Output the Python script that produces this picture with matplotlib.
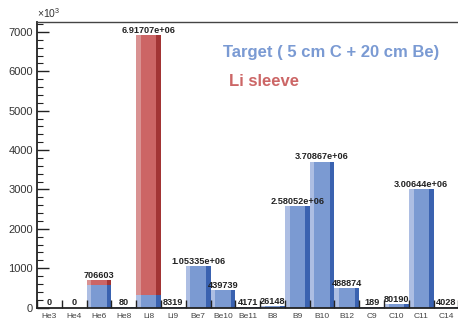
import matplotlib
matplotlib.use("Agg")
import matplotlib.pyplot as plt
import numpy as np

plt.rcParams['font.family'] = ['Liberation Sans', 'DejaVu Sans']
plt.rcParams['mathtext.fontset'] = 'custom'
plt.rcParams['mathtext.rm'] = 'Liberation Sans'

# Isotope yields per bin
isotopes = ["He3", "He4", "He6", "He8", "Li8", "Li9", "Be7", "Be10", "Be11",
            "B8", "B9", "B10", "B12", "C9", "C10", "C11", "C14"]
target_counts = [0, 0, 575000, 80, 320000, 8319, 1053350, 439739, 4171,
                 26148, 2580520, 3708670, 488874, 189, 80190, 3006440, 4028]
sleeve_counts = [0, 0, 131603, 0, 6597070, 0, 0, 0, 0,
                 0, 0, 0, 0, 0, 0, 0, 0]

target = np.array(target_counts, dtype=float)
sleeve = np.array(sleeve_counts, dtype=float)
total = target + sleeve

W, H = 458, 321
fig = plt.figure(figsize=(W / 100, H / 100), dpi=100)
ax = fig.add_axes([37 / W, (H - 307.5) / H, 421.4 / W, 285.9 / H])

blue = dict(light="#adbee3", main="#7b9ad2", dark="#3a62b0")
red = dict(light="#d99292", main="#cc6565", dark="#a23434")
edge_l, edge_r = 0.19, 0.19

def shaded_bar(x, bottom, height, pal):
    if height <= 0:
        return
    ax.bar(x, height, width=edge_l, bottom=bottom, align='edge',
           color=pal["light"], linewidth=0)
    ax.bar(x + edge_l, height, width=1 - edge_l - edge_r, bottom=bottom,
           align='edge', color=pal["main"], linewidth=0)
    ax.bar(x + 1 - edge_r, height, width=edge_r, bottom=bottom, align='edge',
           color=pal["dark"], linewidth=0)

scale = 1e3
for i in range(len(isotopes)):
    shaded_bar(i, 0, target[i] / scale, blue)
    shaded_bar(i, target[i] / scale, sleeve[i] / scale, red)
    ax.annotate(f"{total[i]:g}", (i + 0.5, total[i] / scale),
                xytext=(0, 1.5), textcoords='offset points',
                ha='center', va='baseline', fontsize=6.6,
                fontweight='bold', color='#222222')

n = len(isotopes)
ax.set_xlim(0, n)
ax.set_ylim(0, 1.05 * total.max() / scale)

# x axis: ticks at bin edges, names at bin centres
ax.set_xticks(np.arange(n + 1))
ax.set_xticklabels([])
ax.set_xticks(np.arange(n) + 0.5, minor=True)
ax.set_xticklabels(isotopes, minor=True)
ax.tick_params(axis='x', which='major', direction='in', length=6,
               width=1, color='#222222')
ax.tick_params(axis='x', which='minor', length=0, pad=4,
               labelsize=6, labelcolor='#444444')

# y axis
ax.set_yticks(np.arange(0, 7001, 1000))
ax.set_yticks(np.arange(0, 7300, 200), minor=True)
ax.tick_params(axis='y', which='major', direction='in', length=8.6,
               width=1, color='#222222', labelsize=8, labelcolor='#333333',
               pad=3)
ax.tick_params(axis='y', which='minor', direction='in', length=4.3,
               width=0.8, color='#222222')

ax.spines['left'].set_linewidth(1.3)
ax.spines['left'].set_color('#222222')
ax.spines['bottom'].set_linewidth(1.3)
ax.spines['bottom'].set_color('#222222')
ax.spines['top'].set_linewidth(1.0)
ax.spines['top'].set_color('#444444')
ax.spines['right'].set_visible(False)

fig.text(37 / W, (H - 18) / H, r'$\mathregular{\times10^{3}}$',
         fontsize=7.5, color='#333333', ha='left', va='baseline')

fig.text(223 / W, (H - 53) / H, "Target ( 5 cm C + 20 cm Be)",
         fontsize=12, fontweight='bold', color='#7a9ad3',
         ha='left', va='center')
fig.text(229 / W, (H - 82) / H, "Li sleeve",
         fontsize=12, fontweight='bold', color='#cc6666',
         ha='left', va='center')

fig.savefig("out.png", dpi=100)
